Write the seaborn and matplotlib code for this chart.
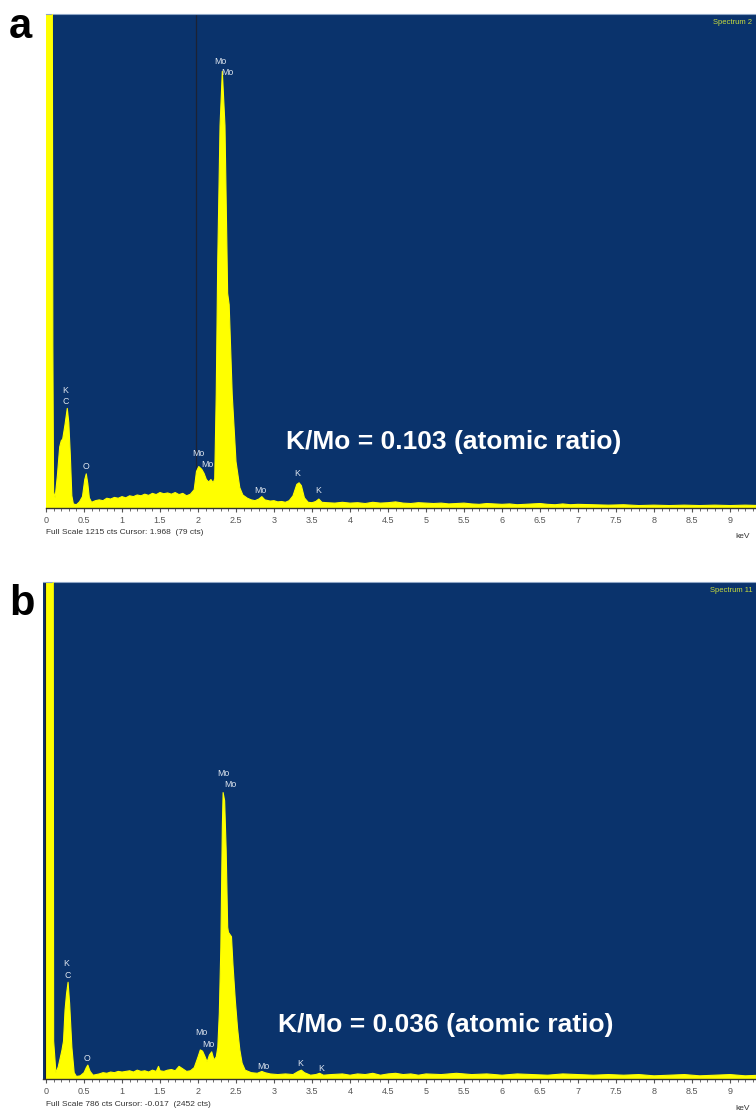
import pandas as pd
import matplotlib.pyplot as plt
import matplotlib.ticker as mticker
import seaborn as sns

# EDS spectra (energy in keV, counts)
energy_a = [0.00, 0.07, 0.09, 0.10, 0.12, 0.15, 0.18, 0.20, 0.22, 0.25, 0.28, 0.30, 0.32, 0.34, 0.36,
            0.40, 0.44, 0.48, 0.51, 0.53, 0.55, 0.57, 0.60, 0.65, 0.70, 0.75, 0.80, 0.85, 0.90, 0.95,
            1.00, 1.05, 1.10, 1.15, 1.20, 1.25, 1.30, 1.35, 1.40, 1.45, 1.50, 1.55, 1.60, 1.65, 1.70,
            1.75, 1.80, 1.85, 1.90, 1.95, 1.98, 2.01, 2.05, 2.08, 2.11, 2.14, 2.17, 2.20, 2.22, 2.24,
            2.26, 2.29, 2.32, 2.355, 2.39, 2.41, 2.45, 2.50, 2.55, 2.59, 2.65, 2.70, 2.75, 2.80, 2.84,
            2.88, 2.95, 3.00, 3.05, 3.10, 3.15, 3.20, 3.25, 3.30, 3.33, 3.36, 3.40, 3.45, 3.50, 3.55,
            3.59, 3.63, 3.70, 3.80, 3.90, 4.00, 4.10, 4.20, 4.30, 4.40, 4.50, 4.60, 4.70, 4.80, 4.90,
            5.00, 5.10, 5.20, 5.30, 5.40, 5.50, 5.60, 5.70, 5.80, 5.90, 6.00, 6.10, 6.20, 6.30, 6.40,
            6.50, 6.60, 6.70, 6.80, 6.90, 7.00, 7.20, 7.40, 7.60, 7.80, 8.00, 8.20, 8.40, 8.60, 8.80,
            9.00, 9.20, 9.40]
counts_a = [3000, 3000, 400, 40, 25, 80, 150, 165, 170, 205, 245, 210, 130, 30, 10,
            8, 15, 28, 70, 84, 60, 25, 14, 18, 20, 18, 24, 22, 26, 24,
            28, 25, 30, 28, 32, 30, 34, 31, 36, 33, 38, 35, 37, 34, 38,
            33, 36, 30, 34, 45, 90, 102, 95, 85, 70, 64, 70, 62, 72, 280,
            610, 940, 1074, 940, 528, 500, 280, 114, 50, 32, 24, 20, 18, 22, 28,
            20, 17, 18, 15, 16, 14, 18, 30, 58, 62, 55, 25, 14, 13, 16,
            22, 14, 13, 12, 14, 12, 13, 11, 14, 12, 13, 15, 12, 11, 13,
            12, 11, 12, 10, 11, 12, 10, 9, 11, 10, 9, 10, 8, 9, 10,
            11, 9, 8, 10, 8, 9, 8, 7, 8, 6, 7, 6, 7, 6, 7,
            6, 7, 6]

energy_b = [0.00, 0.08, 0.10, 0.13, 0.16, 0.19, 0.21, 0.23, 0.25, 0.27, 0.29, 0.31, 0.34, 0.37, 0.40,
            0.45, 0.50, 0.53, 0.55, 0.58, 0.62, 0.70, 0.75, 0.80, 0.85, 0.90, 0.95, 1.00, 1.10, 1.15,
            1.20, 1.25, 1.30, 1.35, 1.40, 1.45, 1.48, 1.50, 1.55, 1.60, 1.65, 1.70, 1.75, 1.80, 1.85,
            1.90, 1.95, 2.00, 2.03, 2.06, 2.09, 2.12, 2.15, 2.18, 2.21, 2.24, 2.26, 2.28, 2.30, 2.32,
            2.33, 2.35, 2.37, 2.39, 2.40, 2.44, 2.46, 2.49, 2.52, 2.55, 2.58, 2.62, 2.70, 2.78, 2.84,
            2.88, 2.95, 3.05, 3.15, 3.25, 3.32, 3.36, 3.40, 3.48, 3.55, 3.60, 3.65, 3.75, 3.90, 4.00,
            4.10, 4.20, 4.30, 4.40, 4.50, 4.60, 4.70, 4.80, 4.90, 5.00, 5.20, 5.40, 5.60, 5.80, 6.00,
            6.20, 6.40, 6.60, 6.80, 7.00, 7.20, 7.40, 7.60, 7.80, 8.00, 8.20, 8.40, 8.60, 8.80, 9.00,
            9.20, 9.40]
counts_b = [3000, 3000, 60, 10, 19, 35, 46, 60, 109, 135, 153, 120, 50, 10, 4,
            5, 10, 18, 22, 12, 6, 8, 10, 9, 11, 10, 12, 11, 13, 11,
            14, 12, 13, 11, 14, 12, 20, 13, 12, 14, 15, 13, 20, 16, 12,
            13, 18, 35, 46, 44, 36, 27, 38, 43, 30, 35, 50, 104, 208, 400,
            453, 440, 362, 240, 232, 225, 180, 125, 80, 46, 25, 14, 10, 9, 12,
            10, 8, 7, 8, 7, 12, 14, 10, 6, 7, 9, 6, 7, 8, 6,
            8, 7, 9, 6, 8, 9, 7, 8, 6, 8, 7, 9, 7, 8, 6,
            8, 7, 6, 8, 7, 6, 7, 6, 7, 5, 6, 7, 5, 6, 7,
            5, 6]

# peak labels: (text, keV, counts)
labels_a = [("Mo", 2.29, 1097), ("Mo", 2.39, 1070), ("K", 0.25, 288), ("C", 0.26, 261),
            ("O", 0.53, 103), ("Mo", 2.00, 135), ("Mo", 2.12, 108), ("Mo", 2.82, 42),
            ("K", 3.30, 84), ("K", 3.58, 42)]
labels_b = [("Mo", 2.33, 483), ("Mo", 2.43, 465), ("K", 0.26, 182), ("C", 0.29, 163),
            ("O", 0.54, 32), ("Mo", 2.04, 73), ("Mo", 2.14, 54), ("Mo", 2.86, 19),
            ("K", 3.34, 25), ("K", 3.62, 17)]

navy = '#0A336C'
yellow = '#FFFF00'

sns.set_theme(style="white")
plt.rcParams['font.family'] = ['Liberation Sans', 'DejaVu Sans']

fig = plt.figure(figsize=(7.56, 11.10), dpi=100)
W, H = 756, 1110


def panel(rect_px, energy, counts, full_scale, xmin, labels, ratio_text, ratio_pos,
          spectrum, footer, footer_y, letter, letter_y, cursor):
    x0, y_top, y_bot = rect_px
    ax = fig.add_axes([x0 / W, 1 - y_bot / H, 1 - x0 / W, (y_bot - y_top) / H])
    ax.set_facecolor(navy)
    df = pd.DataFrame({'energy': energy, 'counts': counts})
    ax.axvline(cursor, color='#1c2233', lw=0.9, zorder=1)
    ax.fill_between(df['energy'], 0, df['counts'], color=yellow, lw=0, zorder=2)
    sns.lineplot(data=df, x='energy', y='counts', ax=ax, color=yellow, lw=0.8, zorder=3)
    ax.set_xlim(xmin, xmin + (W - x0) / 76)
    ax.set_ylim(0, full_scale)
    ax.set_xlabel('')
    ax.set_ylabel('')
    ax.set_yticks([])
    ax.xaxis.set_major_locator(mticker.MultipleLocator(0.5))
    ax.xaxis.set_minor_locator(mticker.MultipleLocator(0.1))
    ax.xaxis.set_major_formatter(mticker.FuncFormatter(lambda v, p: f'{v:g}'))
    ax.tick_params(axis='x', which='major', direction='out', length=3, width=0.8,
                   colors='#555555', labelsize=6.5, pad=2.5, bottom=True)
    ax.tick_params(axis='x', which='minor', direction='out', length=2, width=0.6,
                   color='#555555', bottom=True)
    for s in ['left', 'right']:
        ax.spines[s].set_visible(False)
    ax.spines['top'].set_color('#8fa6c6')
    ax.spines['top'].set_linewidth(0.8)
    ax.spines['bottom'].set_color('#333333')
    ax.spines['bottom'].set_linewidth(1.0)

    for txt, ex, cy in labels:
        ax.text(ex, cy, txt, color='#dfe6ef', fontsize=6.3, ha='center', va='center', zorder=4)
    ax.text(ratio_pos[0], ratio_pos[1], ratio_text, color='white', fontsize=19,
            fontweight='bold', ha='center', va='center', zorder=4)
    ax.text(0.995, 0.982, spectrum, transform=ax.transAxes, color='#c8dc3c',
            fontsize=5.5, ha='right', va='center')

    fig.text(46 / W, 1 - footer_y / H, footer, fontsize=6, color='#333333', va='center')
    fig.text(743 / W, 1 - (footer_y + 4) / H, 'keV', fontsize=6, color='#333333',
             ha='center', va='center')
    fig.text(9 / W, 1 - letter_y / H, letter, fontsize=30, fontweight='bold',
             color='black', va='baseline', ha='left')
    return ax


panel((46, 14, 508), energy_a, counts_a, 1215, 0.0, labels_a,
      'K/Mo = 0.103 (atomic ratio)', (5.36, 162), 'Spectrum 2',
      'Full Scale 1215 cts Cursor: 1.968  (79 cts)', 533, 'a', 38, 1.968)
panel((43, 582, 1079), energy_b, counts_b, 786, -0.04, labels_b,
      'K/Mo = 0.036 (atomic ratio)', (5.26, 85), 'Spectrum 11',
      'Full Scale 786 cts Cursor: -0.017  (2452 cts)', 1104, 'b', 615, -0.017)

fig.savefig('out.png', dpi=100, facecolor='white')
